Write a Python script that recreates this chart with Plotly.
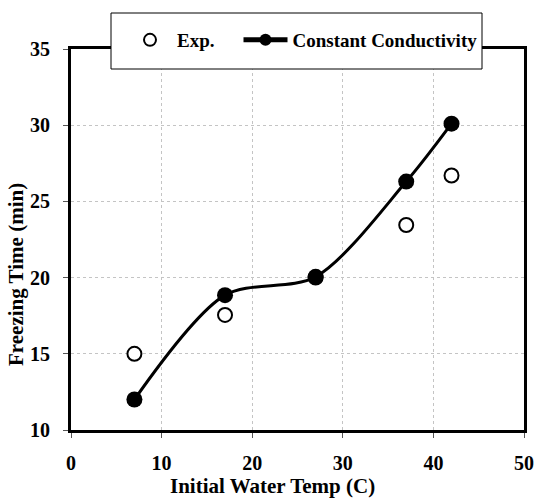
import plotly.graph_objects as go

# Data
temps_exp = [7, 17, 27, 37, 42]
freeze_exp = [15.0, 17.55, 20.0, 23.45, 26.7]

temps_model = [7, 17, 27, 37, 42]
freeze_model = [12.0, 18.85, 20.05, 26.3, 30.1]

x_ticks = [0, 10, 20, 30, 40, 50]
y_ticks = [10, 15, 20, 25, 30, 35]

FONT = "Liberation Serif, Times New Roman, serif"
NBSP = "\u00a0"

fig = go.Figure()

fig.add_trace(go.Scatter(
    x=temps_exp, y=freeze_exp, name="Exp." + NBSP * 4, mode="markers",
    marker=dict(symbol="circle", size=14, color="white",
                line=dict(color="black", width=2)),
))
fig.add_trace(go.Scatter(
    x=temps_model, y=freeze_model, name="Constant Conductivity",
    mode="lines+markers",
    line=dict(color="black", width=3, shape="spline", smoothing=0.85),
    marker=dict(symbol="circle", size=16, color="black"),
))

W, H = 539, 498
L, R, T, B = 71, 15, 49, 68
pw, ph = W - L - R, H - T - B


def px_to_paper_x(px):
    return (px - L) / pw


def px_to_paper_y(py):
    return (H - B - py) / ph


axis_common = dict(
    showline=True, linecolor="black", linewidth=3, mirror=True,
    ticks="outside", ticklen=5, tickwidth=1, tickcolor="#555555",
    showgrid=True, gridcolor="#c4c4c4", gridwidth=1, griddash="3px,3px",
    zeroline=False, automargin=False,
    tickfont=dict(family=FONT, size=20, color="black", weight="bold"),
)

fig.update_xaxes(range=[0, 50], tickvals=x_ticks, ticklabelstandoff=8, **axis_common)
fig.update_yaxes(range=[10, 35], tickvals=y_ticks, ticklabelstandoff=9, **axis_common)

fig.update_layout(
    width=W, height=H,
    autosize=False,
    margin=dict(l=L, r=R, t=T, b=B, pad=0, autoexpand=False),
    paper_bgcolor="white", plot_bgcolor="white",
    showlegend=True,
    legend=dict(
        orientation="h",
        xref="container", yref="container",
        x=123 / W, xanchor="left",
        y=1 - 40 / H, yanchor="middle",
        bgcolor="rgba(0,0,0,0)", borderwidth=0,
        font=dict(family=FONT, size=19, color="black", weight="bold"),
        itemsizing="constant",
        itemwidth=44,
    ),
    shapes=[dict(
        type="rect", xref="paper", yref="paper", layer="above",
        x0=px_to_paper_x(111), x1=px_to_paper_x(482),
        y0=px_to_paper_y(69), y1=px_to_paper_y(13),
        fillcolor="white", line=dict(color="black", width=1),
    )],
    annotations=[
        dict(text="Initial Water Temp (C)", xref="paper", yref="paper",
             x=px_to_paper_x(272), y=px_to_paper_y(500),
             xanchor="center", yanchor="bottom", showarrow=False,
             font=dict(family=FONT, size=21, color="black", weight="bold")),
        dict(text="Freezing Time (min)", xref="paper", yref="paper",
             x=px_to_paper_x(16), y=px_to_paper_y(275),
             xanchor="center", yanchor="middle", showarrow=False, textangle=-90,
             font=dict(family=FONT, size=21, color="black", weight="bold")),
    ],
)

fig.write_html("out.html", post_script="document.body.style.margin='0px';",
               config={"displayModeBar": False})
